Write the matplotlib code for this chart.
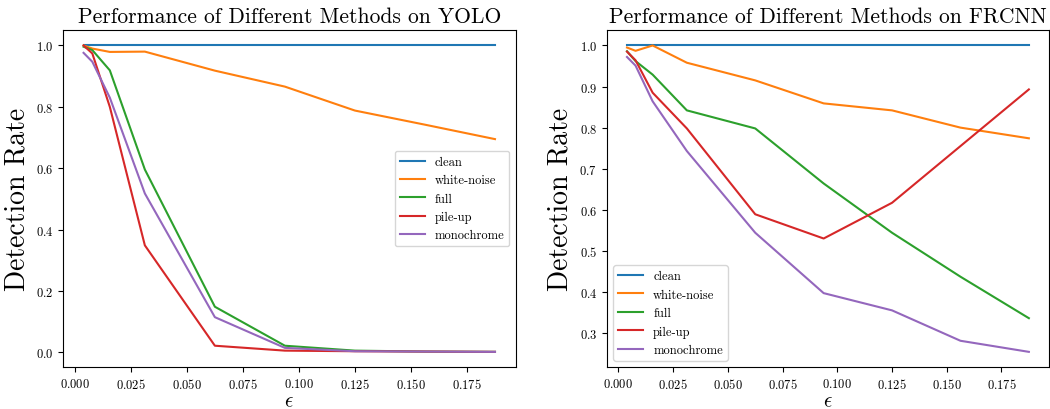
import matplotlib
matplotlib.use("Agg")
import matplotlib.pyplot as plt
import numpy as np

plt.rcParams['font.family'] = ['cmr10', 'DejaVu Serif']
plt.rcParams['mathtext.fontset'] = 'cm'
plt.rcParams['axes.formatter.use_mathtext'] = True
plt.rcParams['axes.unicode_minus'] = False

eps = np.array([1, 2, 4, 8, 16, 24, 32, 40, 48]) / 256.0
labels = ['clean', 'white-noise', 'full', 'pile-up', 'monochrome']

yolo_clean = [1.0, 1.0, 1.0, 1.0, 1.0, 1.0, 1.0, 1.0, 1.0]
yolo_white = [1.0, 0.99, 0.979, 0.98, 0.918, 0.866, 0.788, 0.742, 0.695]
yolo_full = [0.996, 0.985, 0.919, 0.596, 0.149, 0.022, 0.006, 0.003, 0.002]
yolo_pile = [1.0, 0.974, 0.80, 0.349, 0.022, 0.006, 0.004, 0.003, 0.002]
yolo_mono = [0.976, 0.947, 0.83, 0.518, 0.115, 0.015, 0.004, 0.003, 0.002]

frcnn_clean = [1.0, 1.0, 1.0, 1.0, 1.0, 1.0, 1.0, 1.0, 1.0]
frcnn_white = [0.995, 0.987, 1.0, 0.958, 0.915, 0.859, 0.842, 0.800, 0.774]
frcnn_full = [0.986, 0.962, 0.929, 0.842, 0.798, 0.664, 0.544, 0.437, 0.336]
frcnn_pile = [0.985, 0.964, 0.885, 0.798, 0.589, 0.530, 0.617, 0.755, 0.893]
frcnn_mono = [0.972, 0.951, 0.864, 0.743, 0.544, 0.397, 0.355, 0.281, 0.254]

fig = plt.figure(figsize=(10.5, 4.1), dpi=100)
ax1 = fig.add_axes([0.060, 0.102, 0.431, 0.822])
ax2 = fig.add_axes([0.578, 0.102, 0.421, 0.822])

for ax, series, title, loc in [
    (ax1, [yolo_clean, yolo_white, yolo_full, yolo_pile, yolo_mono],
     'Performance of Different Methods on YOLO', 'center right'),
    (ax2, [frcnn_clean, frcnn_white, frcnn_full, frcnn_pile, frcnn_mono],
     'Performance of Different Methods on FRCNN', 'lower left'),
]:
    for s, lab in zip(series, labels):
        ax.plot(eps, s, label=lab, linewidth=1.5)
    ax.set_title(title, fontsize=15.5)
    ax.set_xlabel(r'$\epsilon$', fontsize=15, labelpad=1)
    ax.tick_params(labelsize=9)
    ax.legend(loc=loc, fontsize=9)

ax1.set_xticks([0.0, 0.025, 0.05, 0.075, 0.1, 0.125, 0.15, 0.175])
ax2.set_xticks([0.0, 0.025, 0.05, 0.075, 0.1, 0.125, 0.15, 0.175])
ax1.set_ylabel('Detection Rate', fontsize=20)
ax2.set_ylabel('Detection Rate', fontsize=20)

fig.savefig('out.png', dpi=100)
